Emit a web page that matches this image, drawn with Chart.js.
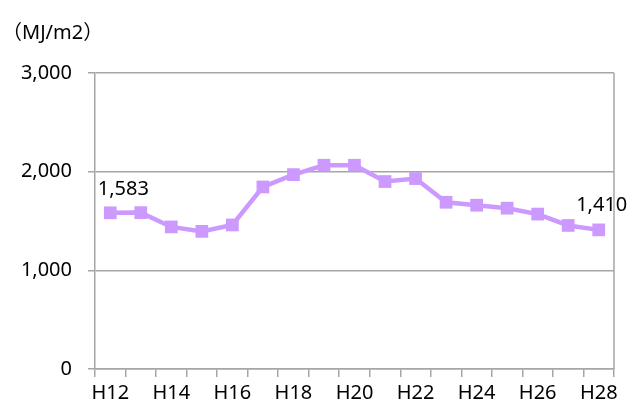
<!DOCTYPE html>
<html>
<head>
<meta charset="utf-8">
<script src="https://cdn.jsdelivr.net/npm/chart.js@4.4.1/dist/chart.umd.min.js"></script>
<style>
    html, body { margin: 0; padding: 0; background: #fff; }
    #wrap { position: relative; width: 630px; height: 405px; }
</style>
</head>
<body>
<div id="wrap"><canvas id="grafico" width="630" height="405"></canvas></div>
<script>
// Datos del gráfico
const categorias = ['H12', 'H13', 'H14', 'H15', 'H16', 'H17', 'H18', 'H19', 'H20',
                    'H21', 'H22', 'H23', 'H24', 'H25', 'H26', 'H27', 'H28'];
const valores = [1583, 1585, 1440, 1395, 1460, 1845, 1970, 2065, 2065,
                 1900, 1930, 1690, 1660, 1630, 1570, 1455, 1410];
const ticksY = [0, 1000, 2000, 3000];
const unidad = '（MJ/m2）';

const fuente = "'Noto Sans', 'Noto Sans CJK JP', sans-serif";
const gris = '#a6a6a6';
const morado = '#cc99ff';

// Etiquetas de dato en el primer y último punto
const etiquetasPlugin = {
    id: 'etiquetas',
    afterDatasetsDraw(chart) {
        const ctx = chart.ctx;
        const meta = chart.getDatasetMeta(0);
        const fmt = v => v.toLocaleString('en-US');
        const primero = meta.data[0];
        const ultimo = meta.data[meta.data.length - 1];
        ctx.save();
        ctx.font = '20px ' + fuente;
        ctx.fillStyle = '#000';
        ctx.textAlign = 'center';
        ctx.textBaseline = 'middle';
        ctx.fillText(fmt(valores[0]), primero.x + 13, primero.y - 24);
        ctx.fillText(fmt(valores[valores.length - 1]), ultimo.x + 3, ultimo.y - 25);
        // unidad del eje
        ctx.textAlign = 'left';
        ctx.fillText(unidad, 2, 33);
        // borde derecho del área
        const a = chart.chartArea;
        ctx.strokeStyle = gris;
        ctx.lineWidth = 1.5;
        ctx.beginPath();
        ctx.moveTo(a.right, a.top);
        ctx.lineTo(a.right, a.bottom);
        ctx.stroke();
        ctx.restore();
    }
};

new Chart(document.getElementById('grafico'), {
    type: 'line',
    data: {
        labels: categorias,
        datasets: [{
            data: valores,
            borderColor: morado,
            backgroundColor: morado,
            borderWidth: 4.5,
            pointStyle: 'rect',
            pointRadius: 9,
            pointHoverRadius: 9,
            pointBorderWidth: 0,
            tension: 0
        }]
    },
    options: {
        responsive: false,
        animation: false,
        layout: {
            padding: { top: 73, right: 16, bottom: 0, left: 0 }
        },
        plugins: {
            legend: { display: false },
            tooltip: { enabled: false }
        },
        scales: {
            x: {
                offset: true,
                afterFit: scale => { scale.height = 36; },
                grid: {
                    offset: true,
                    drawOnChartArea: false,
                    color: gris,
                    lineWidth: 1.5,
                    tickLength: 8
                },
                border: { color: gris, width: 1.5 },
                ticks: {
                    autoSkip: false,
                    maxRotation: 0,
                    padding: 4,
                    color: '#000',
                    font: { family: fuente, size: 20 },
                    callback: function(v, i) {
                        return i % 2 === 0 ? this.getLabelForValue(v) : '';
                    }
                }
            },
            y: {
                min: ticksY[0],
                max: ticksY[ticksY.length - 1],
                afterBuildTicks: scale => {
                    scale.ticks = ticksY.map(v => ({ value: v }));
                },
                afterFit: scale => { scale.width = 95; },
                grid: {
                    color: gris,
                    lineWidth: 1.5,
                    tickLength: 7
                },
                border: { color: gris, width: 1.5 },
                ticks: {
                    padding: 16,
                    color: '#000',
                    font: { family: fuente, size: 20 },
                    callback: v => v.toLocaleString('en-US')
                }
            }
        }
    },
    plugins: [etiquetasPlugin]
});
</script>
</body>
</html>
